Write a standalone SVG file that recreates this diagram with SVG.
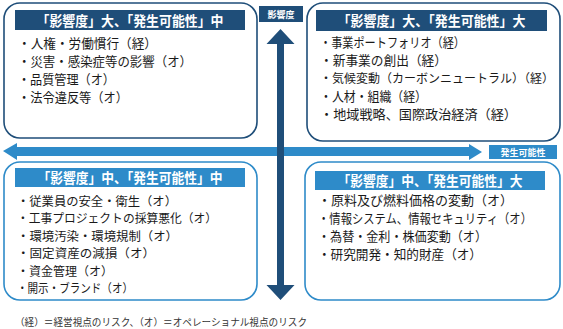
<svg xmlns="http://www.w3.org/2000/svg" width="563" height="329" viewBox="0 0 563 329">
<style>
.box{fill:#fff;stroke-width:1.6}
.dk{stroke:#1f4e79}
.lt{stroke:#2e8bc9}
.hd{fill:#fff;font-family:"Noto Sans CJK JP","Noto Sans",sans-serif;font-size:14px;font-weight:bold;text-anchor:middle}
.tx{fill:#1a1a1a;font-family:"Noto Sans CJK JP","Noto Sans",sans-serif;font-size:13px}
.sm{font-size:12px}
.lb{fill:#fff;font-family:"Noto Sans CJK JP","Noto Sans",sans-serif;font-size:9px;font-weight:bold;text-anchor:middle}
.fn{fill:#333;font-family:"Noto Sans CJK JP","Noto Sans",sans-serif;font-size:10px}
</style>
<rect width="563" height="329" fill="#fff"/>
<g id="connectors">
<polygon fill="#2e8bc9" points="3,151 17,143 17,147 469,147 469,144 482,152 469,160 469,156 17,156 17,160"/>
<polygon fill="#1f4e79" points="280.5,29 294.5,44 284,44 284,285 294.5,285 280.5,300 266.5,285 277,285 277,44 266.5,44"/>
</g>
<g id="axis-impact">
<rect x="259" y="6" width="44" height="16" fill="#1f4e79"/>
<text class="lb" x="281" y="17.5">影響度</text>
</g>
<g id="axis-likelihood">
<rect x="489" y="145" width="68" height="14" fill="#2e8bc9"/>
<text class="lb" x="523" y="155.5">発生可能性</text>
</g>
<g id="node-tl">
<rect class="box dk" x="4" y="3" width="253" height="135" rx="16"/>
<rect x="15" y="10" width="230" height="20" fill="#1f4e79"/>
<text class="hd" x="130" y="25.5" textLength="187" lengthAdjust="spacingAndGlyphs">「影響度」大、「発生可能性」中</text>
<text class="tx" x="18" y="48" textLength="139" lengthAdjust="spacingAndGlyphs">・人権・労働慣行（経）</text>
<text class="tx" x="18" y="66" textLength="174" lengthAdjust="spacingAndGlyphs">・災害・感染症等の影響（オ）</text>
<text class="tx" x="18" y="84" textLength="97" lengthAdjust="spacingAndGlyphs">・品質管理（オ）</text>
<text class="tx" x="18" y="102" textLength="110" lengthAdjust="spacingAndGlyphs">・法令違反等（オ）</text>
</g>
<g id="node-tr">
<rect class="box dk" x="307" y="3" width="253" height="138" rx="16"/>
<rect x="316" y="10" width="231" height="21" fill="#1f4e79"/>
<text class="hd" x="431.5" y="26" textLength="188" lengthAdjust="spacingAndGlyphs">「影響度」大、「発生可能性」大</text>
<text class="tx" x="320" y="47" textLength="145" lengthAdjust="spacingAndGlyphs">・事業ポートフォリオ（経）</text>
<text class="tx" x="320" y="65" textLength="127" lengthAdjust="spacingAndGlyphs">・新事業の創出（経）</text>
<text class="tx sm" x="320" y="83" textLength="234" lengthAdjust="spacingAndGlyphs">・気候変動（カーボンニュートラル）（経）</text>
<text class="tx" x="320" y="101" textLength="107" lengthAdjust="spacingAndGlyphs">・人材・組織（経）</text>
<text class="tx" x="320" y="119" textLength="197" lengthAdjust="spacingAndGlyphs">・地域戦略、国際政治経済（経）</text>
</g>
<g id="node-bl">
<rect class="box lt" x="4" y="162" width="253" height="138" rx="16"/>
<rect x="15" y="168" width="230" height="19" fill="#2e8bc9"/>
<text class="hd" x="130" y="182.5" textLength="185" lengthAdjust="spacingAndGlyphs">「影響度」中、「発生可能性」中</text>
<text class="tx sm" x="17" y="205.5" textLength="160" lengthAdjust="spacingAndGlyphs">・従業員の安全・衛生（オ）</text>
<text class="tx sm" x="17" y="223" textLength="200" lengthAdjust="spacingAndGlyphs">・工事プロジェクトの採算悪化（オ）</text>
<text class="tx sm" x="17" y="240.5" textLength="161" lengthAdjust="spacingAndGlyphs">・環境汚染・環境規制（オ）</text>
<text class="tx sm" x="17" y="258" textLength="138" lengthAdjust="spacingAndGlyphs">・固定資産の減損（オ）</text>
<text class="tx sm" x="17" y="275.5" textLength="96" lengthAdjust="spacingAndGlyphs">・資金管理（オ）</text>
<text class="tx sm" x="17" y="293" textLength="116" lengthAdjust="spacingAndGlyphs">・開示・ブランド（オ）</text>
</g>
<g id="node-br">
<rect class="box lt" x="305" y="162" width="255" height="138" rx="16"/>
<rect x="315" y="171" width="230" height="19" fill="#2e8bc9"/>
<text class="hd" x="430" y="185.5" textLength="185" lengthAdjust="spacingAndGlyphs">「影響度」中、「発生可能性」大</text>
<text class="tx" x="318" y="205" textLength="195" lengthAdjust="spacingAndGlyphs">・原料及び燃料価格の変動（オ）</text>
<text class="tx" x="318" y="223" textLength="214" lengthAdjust="spacingAndGlyphs">・情報システム、情報セキュリティ（オ）</text>
<text class="tx" x="318" y="241" textLength="169" lengthAdjust="spacingAndGlyphs">・為替・金利・株価変動（オ）</text>
<text class="tx" x="318" y="259" textLength="164" lengthAdjust="spacingAndGlyphs">・研究開発・知的財産（オ）</text>
</g>
<text class="fn" x="15" y="325.5" textLength="292" lengthAdjust="spacingAndGlyphs">（経）＝経営視点のリスク、（オ）＝オペレーショナル視点のリスク</text>
</svg>
